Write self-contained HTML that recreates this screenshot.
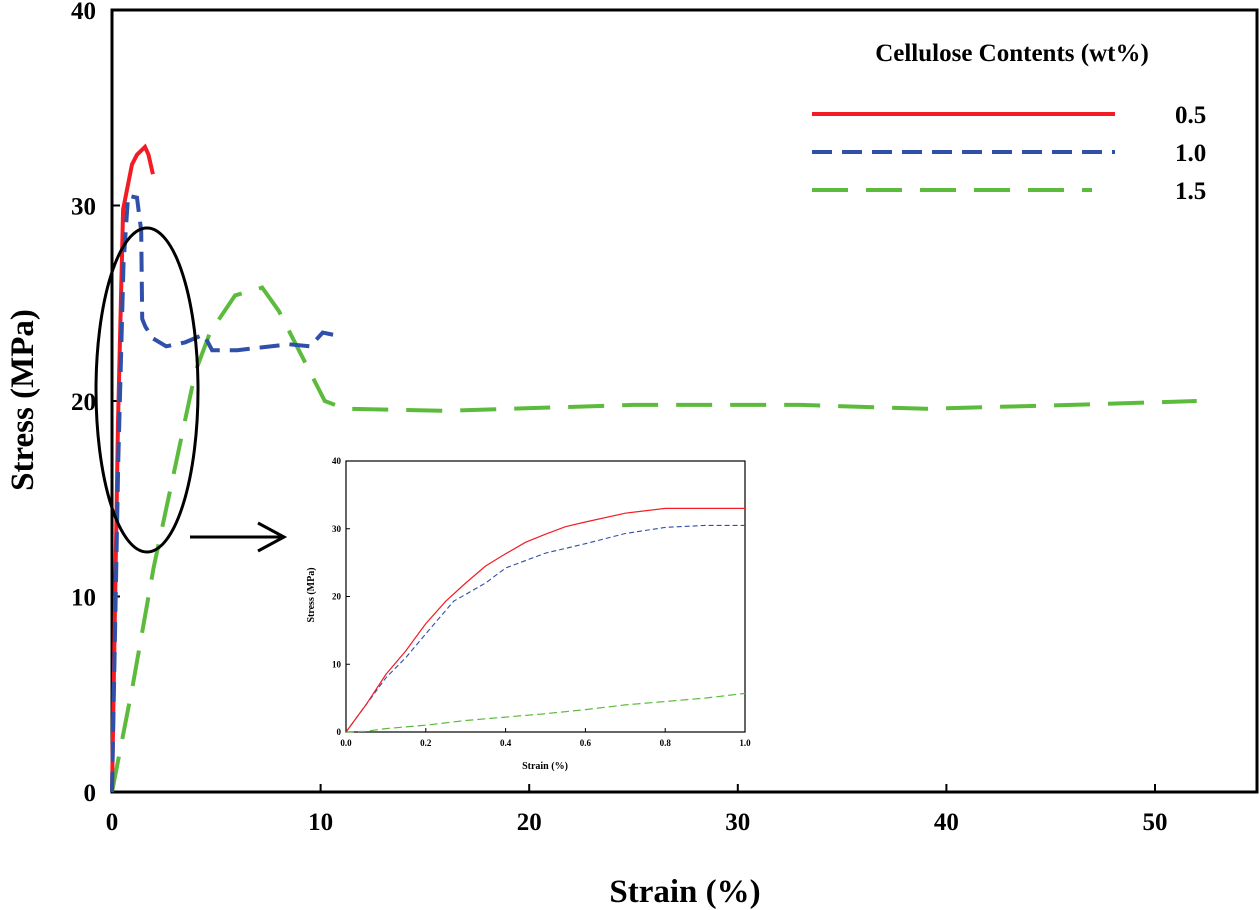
<!DOCTYPE html>
<html><head><meta charset="utf-8"><style>
body{margin:0;background:#fff}
svg{display:block;font-family:"Liberation Serif",serif;font-weight:bold}
</style></head><body>
<svg id="chart" width="1260" height="910">
<g id="main"></g>
<g id="inset"></g>
</svg>
<script>
const mainXTicks=[0,10,20,30,40,50];
const mainYTicks=[0,10,20,30,40];
const red05X=[0,0.29,0.53,0.96,1.2,1.58,1.75,1.96];
const red05Y=[0,18.9,29.8,32.1,32.6,33,32.6,31.6];
const blue10X=[0,0.3,0.55,0.77,1.2,1.4,1.45,1.6,1.96,2.6,3.5,4.4,4.8,6,8.5,9.5,10.1,11];
const blue10Y=[0,17,27,30.5,30.4,28.7,24.2,23.8,23.2,22.8,23.0,23.4,22.6,22.6,22.9,22.8,23.5,23.3];
const green15X=[0,1,2,3,4,4.7,5.9,7.2,8,10.2,11.2,16,25,33,39,46,52];
const green15Y=[0,5.5,11.5,16.5,21.5,23.5,25.4,25.8,24.6,20,19.6,19.5,19.8,19.8,19.6,19.8,20];
const insetXTicks=[0,0.2,0.4,0.6,0.8,1.0];
const insetYTicks=[0,10,20,30,40];
const insRedX=[0,0.05,0.1,0.15,0.2,0.25,0.3,0.35,0.4,0.45,0.5,0.55,0.6,0.7,0.8,1];
const insRedY=[0,4,8.5,12,16,19.3,22,24.5,26.3,28,29.2,30.3,31,32.3,33,33];
const insBlueX=[0,0.05,0.1,0.15,0.2,0.27,0.35,0.4,0.5,0.6,0.7,0.8,0.9,1];
const insBlueY=[0,4,8,11,14.5,19.3,22,24.2,26.4,27.8,29.3,30.2,30.5,30.5];
const insGreenX=[0,0.05,0.1,0.2,0.3,0.4,0.5,0.6,0.7,0.8,0.9,1];
const insGreenY=[0,0.1,0.5,1,1.7,2.2,2.7,3.3,4,4.5,5,5.7];

const NS="http://www.w3.org/2000/svg";
function mk(parent,tag,attrs,text){const e=document.createElementNS(NS,tag);for(const k in attrs)e.setAttribute(k,attrs[k]);if(text!==undefined)e.textContent=text;parent.appendChild(e);return e;}
function pathD(xs,ys,sx,sy){return xs.map((v,i)=>(i?"L":"M")+sx(v).toFixed(1)+","+sy(ys[i]).toFixed(1)).join(" ");}

const M=document.getElementById('main');
const L=112,R=1257,T=10,B=792;
const sx=v=>L+v*(1155-112)/50, sy=v=>B-v*(B-T)/40;
let fr=mk(M,'rect',{x:L,y:T,width:R-L,height:B-T,fill:'none',stroke:'#000','stroke-width':3});

mainXTicks.forEach(t=>{
 let l=mk(M,'line',{x1:sx(t),x2:sx(t),y1:B,y2:B-8,stroke:'#000','stroke-width':2});
 
 let tx=mk(M,'text',{x:sx(t),y:B+38,'text-anchor':'middle','font-size':25},String(t));
 
});
mainYTicks.forEach(t=>{
 let l=mk(M,'line',{x1:L,x2:L+8,y1:sy(t),y2:sy(t),stroke:'#000','stroke-width':2});
 
 let tx=mk(M,'text',{x:L-16,y:sy(t)+9,'text-anchor':'end','font-size':25},String(t));
 
});
let xt=mk(M,'text',{x:685,y:902,'text-anchor':'middle','font-size':33},'Strain (%)');

let yt=mk(M,'text',{x:0,y:0,'text-anchor':'middle','font-size':33,transform:'translate(33,400) rotate(-90)'},'Stress (MPa)');


let gS=mk(M,'path',{d:pathD(green15X,green15Y,sx,sy),fill:'none',stroke:'#5cbb3c','stroke-width':4,'stroke-dasharray':'36 18'});

let rS=mk(M,'path',{d:pathD(red05X,red05Y,sx,sy),fill:'none',stroke:'#f21c24','stroke-width':4});

let bS=mk(M,'path',{d:pathD(blue10X,blue10Y,sx,sy),fill:'none',stroke:'#2f4fa8','stroke-width':4,'stroke-dasharray':'20 10'});


let el=mk(M,'ellipse',{cx:147,cy:390,rx:51,ry:162,fill:'none',stroke:'#000','stroke-width':3});

let ar=mk(M,'path',{d:'M190,537 L283,537 M258,523 L284,537 L258,551',fill:'none',stroke:'#000','stroke-width':3});


let lt=mk(M,'text',{x:1012,y:61,'text-anchor':'middle','font-size':25},'Cellulose Contents (wt%)');

const legItems=[['0.5','#f21c24','',1115],['1.0','#2f4fa8','20 10',1115],['1.5','#5cbb3c','36 18',1092]];
legItems.forEach((it,i)=>{
 const y=114+i*38;
 let l=mk(M,'line',{x1:812,x2:it[3],y1:y,y2:y,stroke:it[1],'stroke-width':4,'stroke-dasharray':it[2]||'none'});
 
 let t=mk(M,'text',{x:1175,y:y+9,'font-size':25},it[0]);
 
});

const I=document.getElementById('inset');
const iL=346,iR=745,iT=461,iB=732;
const ix=v=>iL+v*(iR-iL), iy=v=>iB-v*(iB-iT)/40;
let ifr=mk(I,'rect',{x:iL,y:iT,width:iR-iL,height:iB-iT,fill:'#fff',stroke:'#000','stroke-width':1.2});

insetXTicks.forEach(t=>{
 let l=mk(I,'line',{x1:ix(t),x2:ix(t),y1:iB,y2:iB-4,stroke:'#000','stroke-width':1});
 
 let tx=mk(I,'text',{x:ix(t),y:iB+14,'text-anchor':'middle','font-size':9},t.toFixed(1));
 
});
insetYTicks.forEach(t=>{
 let l=mk(I,'line',{x1:iL,x2:iL+4,y1:iy(t),y2:iy(t),stroke:'#000','stroke-width':1});
 
 let tx=mk(I,'text',{x:iL-5,y:iy(t)+3,'text-anchor':'end','font-size':9},String(t));
 
});
let ixt=mk(I,'text',{x:545,y:769,'text-anchor':'middle','font-size':10},'Strain (%)');

let iyt=mk(I,'text',{x:0,y:0,'text-anchor':'middle','font-size':10,transform:'translate(314,595) rotate(-90)'},'Stress (MPa)');

let ig=mk(I,'path',{d:pathD(insGreenX,insGreenY,ix,iy),fill:'none',stroke:'#5cbb3c','stroke-width':1.2,'stroke-dasharray':'8 4'});

let ib=mk(I,'path',{d:pathD(insBlueX,insBlueY,ix,iy),fill:'none',stroke:'#2f4fa8','stroke-width':1.1,'stroke-dasharray':'5 3'});

let ir=mk(I,'path',{d:pathD(insRedX,insRedY,ix,iy),fill:'none',stroke:'#f21c24','stroke-width':1.2});

</script>
</body></html>
